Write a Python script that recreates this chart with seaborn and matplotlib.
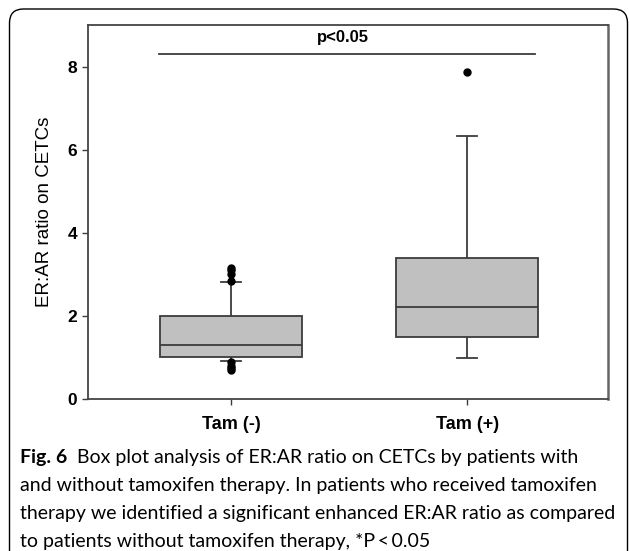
import pandas as pd
import matplotlib
matplotlib.use("Agg")
import matplotlib.pyplot as plt
import seaborn as sns
from matplotlib.patches import FancyBboxPatch
from matplotlib.transforms import IdentityTransform

# --- Data ---
groups = ["Tam (-)", "Tam (+)"]
tam_neg = [0.70, 0.75, 0.80, 0.88, 0.92,
           0.95, 0.97, 0.98, 0.99, 1.00, 1.00,
           1.05, 1.10, 1.12, 1.15, 1.18, 1.20, 1.22, 1.25, 1.28, 1.31,
           1.35, 1.40, 1.45, 1.50, 1.60, 1.70, 1.75, 1.80, 1.90, 2.00,
           2.10, 2.20, 2.35, 2.50, 2.65, 2.82,
           2.85, 3.00, 3.10, 3.16]
tam_pos = [0.99, 0.99, 1.45, 1.53, 1.90, 2.22, 2.80, 3.20, 3.60, 6.34, 7.88]
y_ticks = [0, 2, 4, 6, 8]
sig_label = "p<0.05"
sig_level = 8.3
y_label = "ER:AR ratio on CETCs"
caption_head = "Fig. 6"
caption_lines = [
    "Box plot analysis of ER:AR ratio on CETCs by patients with",
    "and without tamoxifen therapy. In patients who received tamoxifen",
    "therapy we identified a significant enhanced ER:AR ratio as compared",
    "to patients without tamoxifen therapy, *P\u2009<\u20090.05",
]

df = pd.DataFrame({
    "group": [groups[0]] * len(tam_neg) + [groups[1]] * len(tam_pos),
    "ratio": tam_neg + tam_pos,
})

plt.rcParams["font.family"] = ["Liberation Sans", "DejaVu Sans"]

fig = plt.figure(figsize=(6.29, 5.51), dpi=100)
ax = fig.add_axes([88 / 629, 1 - 399 / 551, 520 / 629, 374 / 551])

line_col = "#3c3c3c"
sns.boxplot(data=df, x="group", y="ratio", order=groups, ax=ax,
            color="#c0c0c0", saturation=1, width=0.6, whis=(10, 90),
            linecolor=line_col, linewidth=1.3, capwidths=0.085,
            flierprops=dict(marker="o", markerfacecolor="black",
                            markeredgecolor="black", markersize=5))

ax.set_xlim(-0.606, 1.597)
ax.set_ylim(0, 9.0)
ax.set_yticks(y_ticks)
ax.set_xlabel("")
ax.set_ylabel(y_label, fontsize=13.5, labelpad=10)
for lbl in ax.get_xticklabels() + ax.get_yticklabels():
    lbl.set_fontweight("bold")
ax.tick_params(axis="y", labelsize=12.5, length=4, width=1, pad=4, color=line_col)
ax.tick_params(axis="x", labelsize=13, length=4, width=1, pad=8, color=line_col)
for s in ax.spines.values():
    s.set_color("#444444")
    s.set_linewidth(1.3)
ax.spines["right"].set_color("#666666")
ax.spines["right"].set_linewidth(1.8)

# significance bar
ax.plot([-0.305, 1.288], [sig_level, sig_level], color=line_col, lw=1.3)
ax.text(0.475, sig_level + 0.4, sig_label, ha="center", va="center",
        fontsize=12, fontweight="bold")

# caption
cap_font = ["Lato", "DejaVu Sans"]
head = fig.text(20 / 629, 1 - 457 / 551, caption_head, fontsize=14,
                fontweight="bold", family=cap_font, va="center")
fig.canvas.draw()
bb = head.get_window_extent()
x_rest = (bb.x1 + 10) / 629
fig.text(x_rest, 1 - 457 / 551, caption_lines[0], fontsize=14,
         family=cap_font, va="center")
for i, line in enumerate(caption_lines[1:]):
    fig.text(20 / 629, 1 - (485 + 28 * i) / 551, line, fontsize=14,
             family=cap_font, va="center")

# outer rounded frame (open at the bottom)
frame = FancyBboxPatch((9.5, -30), 618, 572,
                       boxstyle="round,pad=0,rounding_size=14",
                       transform=IdentityTransform(), fill=False,
                       edgecolor="black", linewidth=1.0)
fig.patches.append(frame)

fig.savefig("out.png", dpi=100)
